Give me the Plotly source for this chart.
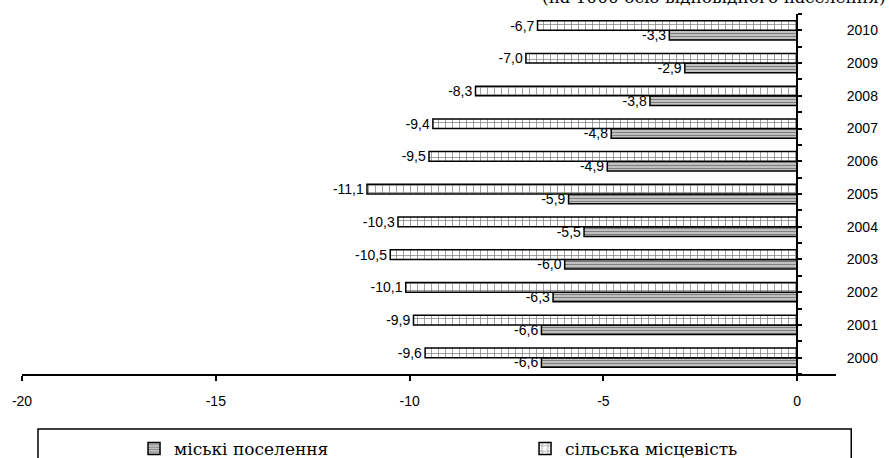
import plotly.graph_objects as go

years = [2000, 2001, 2002, 2003, 2004, 2005, 2006, 2007, 2008, 2009, 2010]
urban = [-6.6, -6.6, -6.3, -6.0, -5.5, -5.9, -4.9, -4.8, -3.8, -2.9, -3.3]
rural = [-9.6, -9.9, -10.1, -10.5, -10.3, -11.1, -9.5, -9.4, -8.3, -7.0, -6.7]
x_ticks = [-20, -15, -10, -5, 0]
x_ticktext = ["-20", "-15", "-10", "-5", "0"]
name_urban = "міські поселення"
name_rural = "сільська місцевість"
title_text = "(на 1000 осіб відповідного населення)"

SERIF = "DejaVu Serif"
SANS = "Arial, Liberation Sans"

def fmt(v):
    return f"{v:.1f}".replace(".", ",")

fig = go.Figure()
fig.add_trace(go.Bar(
    y=years, x=urban, orientation="h", name=name_urban,
    text=[fmt(v) for v in urban], textposition="outside",
    constraintext="none", cliponaxis=False,
    textfont=dict(family=SANS, size=14, color="black"),
    marker=dict(color="#bdbdbd",
                line=dict(color="black", width=1.5),
                pattern=dict(shape="-", fgcolor="#333333", bgcolor="#c8c8c8",
                             size=3, solidity=0.4)),
))
fig.add_trace(go.Bar(
    y=years, x=rural, orientation="h", name=name_rural,
    text=[fmt(v) for v in rural], textposition="outside",
    constraintext="none", cliponaxis=False,
    textfont=dict(family=SANS, size=14, color="black"),
    marker=dict(color="white",
                line=dict(color="black", width=1.5),
                pattern=dict(shape="+", fgcolor="black", bgcolor="white",
                             size=7, solidity=0.2)),
))

fig.update_layout(
    width=889, height=458,
    margin=dict(l=22, r=53, t=14, b=84, autoexpand=False),
    paper_bgcolor="white", plot_bgcolor="white",
    barmode="group", bargap=0.41, bargroupgap=0,
    font=dict(family=SANS, size=14, color="black"),
    xaxis=dict(range=[-20, 1], tickmode="array", tickvals=x_ticks, ticktext=x_ticktext,
               showgrid=False, zeroline=False, showline=True, linecolor="black",
               linewidth=1.5, ticks="outside", ticklen=5, tickwidth=1.5, tickcolor="black",
               ticklabelstandoff=8,
               tickfont=dict(family=SANS, size=14, color="black")),
    yaxis=dict(range=[1999.5, 2010.5], anchor="free", position=775/813.75, side="right",
               tickmode="linear", tick0=2000, dtick=1, tickformat="d",
               showgrid=False, zeroline=False, showline=True, linecolor="black",
               linewidth=1.5, ticks="outside", ticklen=4, tickwidth=1.5, tickcolor="black",
               ticklabelstandoff=42,
               minor=dict(dtick=0.5, tick0=1999.5, ticks="outside", ticklen=4,
                          tickwidth=1.5, tickcolor="black", showgrid=False),
               tickfont=dict(family=SANS, size=14, color="black")),
    legend=dict(orientation="h", x=(134 - 22) / 813.75, xanchor="left",
                y=-0.158, yanchor="top", traceorder="normal",
                entrywidth=346, entrywidthmode="pixels",
                bgcolor="rgba(0,0,0,0)", borderwidth=0,
                font=dict(family=SERIF, size=17, color="black")),
    showlegend=True,
)

fig.add_shape(type="rect", xref="paper", yref="paper",
              x0=(38 - 22) / 813.75, x1=(851 - 22) / 813.75,
              y0=-0.30, y1=-(429 - 374) / 360,
              line=dict(color="black", width=1.5), fillcolor="rgba(0,0,0,0)")

fig.add_annotation(text=title_text, xref="paper", yref="paper",
                   x=(540 - 22) / 813.75, y=1 + (14 - 9) / 360,
                   xanchor="left", yanchor="bottom", showarrow=False,
                   font=dict(family=SERIF, size=17, color="black"))

fig.write_html("out.html", config={"displayModeBar": False},
               post_script="document.body.style.margin='0';document.body.style.overflow='hidden';")
